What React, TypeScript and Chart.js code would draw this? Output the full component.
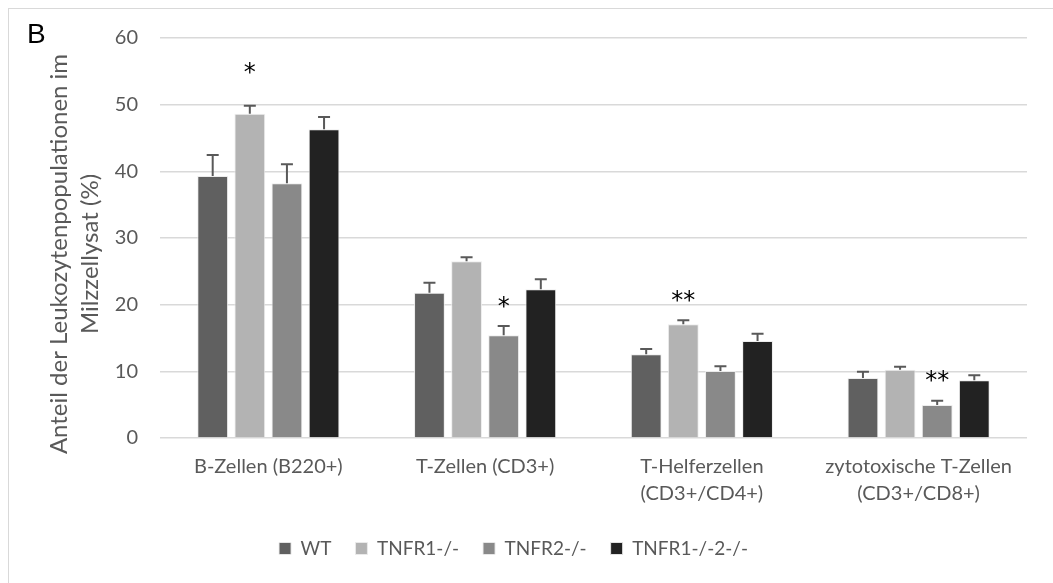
import { useEffect, useRef } from "react";
import { Chart, registerables } from "chart.js";
Chart.register(...registerables);

const categories = [
  ["B-Zellen (B220+)"],
  ["T-Zellen (CD3+)"],
  ["T-Helferzellen", "(CD3+/CD4+)"],
  ["zytotoxische T-Zellen", "(CD3+/CD8+)"],
];
const seriesNames = ["WT", "TNFR1-/-", "TNFR2-/-", "TNFR1-/-2-/-"];
const wtValues = [39.3, 21.8, 12.55, 9.0];
const wtErrors = [3.15, 1.5, 0.8, 0.95];
const tnfr1Values = [48.65, 26.5, 17.05, 10.25];
const tnfr1Errors = [1.2, 0.6, 0.6, 0.45];
const tnfr2Values = [38.2, 15.4, 10.05, 4.95];
const tnfr2Errors = [2.85, 1.4, 0.7, 0.65];
const dkoValues = [46.3, 22.3, 14.55, 8.65];
const dkoErrors = [1.85, 1.5, 1.1, 0.75];
const yTicks = [0, 10, 20, 30, 40, 50, 60];
const yTitle = ["Anteil der Leukozytenpopulationen im", "Milzzellysat (%)"];
const panelLetter = "B";

// significance marks
const sigSeries = [1, 2, 1, 2];
const sigCategories = [0, 1, 2, 3];
const sigLabels = ["*", "*", "**", "**"];
const sigValues = [54.7, 19.6, 20.4, 8.5];

const colors = ["#606060", "#b3b3b3", "#898989", "#222222"];
const FONT = "Lato, 'Liberation Sans', sans-serif";

const allValues = [wtValues, tnfr1Values, tnfr2Values, dkoValues];
const allErrors = [wtErrors, tnfr1Errors, tnfr2Errors, dkoErrors];

const extrasPlugin = {
  id: "extras",
  afterDatasetsDraw(chart: any) {
    const ctx = chart.ctx;
    const y = chart.scales.y;
    ctx.save();
    ctx.strokeStyle = "#595959";
    ctx.lineWidth = 2;
    allValues.forEach((vals, i) => {
      const meta = chart.getDatasetMeta(i);
      vals.forEach((v, j) => {
        const el = meta.data[j];
        const x = el.x;
        const top = y.getPixelForValue(v + allErrors[i][j]);
        const base = y.getPixelForValue(v);
        ctx.beginPath();
        ctx.moveTo(x, base);
        ctx.lineTo(x, top);
        ctx.moveTo(x - 6, top);
        ctx.lineTo(x + 6, top);
        ctx.stroke();
      });
    });
    ctx.fillStyle = "#000";
    ctx.font = `24px 'DejaVu Sans', sans-serif`;
    ctx.textAlign = "center";
    ctx.textBaseline = "middle";
    sigLabels.forEach((lab, k) => {
      const el = chart.getDatasetMeta(sigSeries[k]).data[sigCategories[k]];
      ctx.fillText(lab, el.x, y.getPixelForValue(sigValues[k]));
    });
    ctx.font = `28px 'Liberation Sans', sans-serif`;
    ctx.textAlign = "left";
    ctx.textBaseline = "alphabetic";
    ctx.fillText(panelLetter, 27, 43);
    // y axis title, centred a little below the plot centre as in the original
    ctx.fillStyle = "#595959";
    ctx.font = `24px ${FONT}`;
    ctx.textAlign = "center";
    ctx.textBaseline = "middle";
    ctx.translate(0, 254);
    ctx.rotate(-Math.PI / 2);
    ctx.fillText(yTitle[0], 0, 59);
    ctx.fillText(yTitle[1], 0, 90);
    ctx.restore();
  },
};

export default function App() {
  const ref = useRef<HTMLCanvasElement>(null);
  useEffect(() => {
    const chart = new Chart(ref.current!, {
      type: "bar",
      data: {
        labels: categories as any,
        datasets: seriesNames.map((name, i) => ({
          label: name,
          data: allValues[i],
          backgroundColor: colors[i],
          borderColor: "rgba(235,235,235,0.9)",
          borderWidth: 1,
          barPercentage: 0.83,
          categoryPercentage: 0.685,
        })),
      },
      options: {
        responsive: false,
        animation: false,
        layout: { padding: { top: 38, right: 26, left: 0, bottom: 15 } },
        plugins: {
          tooltip: { enabled: false },
          legend: {
            position: "bottom",
            labels: {
              boxWidth: 12,
              boxHeight: 12,
              color: "#595959",
              font: { family: FONT, size: 19 },
              padding: 24,
            },
          },
        },
        scales: {
          x: {
            grid: { display: false, drawTicks: false },
            border: { display: false },
            ticks: {
              color: "#595959",
              font: { family: FONT, size: 20, lineHeight: 1.35 },
              padding: 15,
              maxRotation: 0,
              autoSkip: false,
            },
            afterFit: (s: any) => {
              s.height = 77;
            },
          },
          y: {
            min: 0,
            max: 60,
            afterBuildTicks: (s: any) => {
              s.ticks = yTicks.map((v) => ({ value: v }));
            },
            grid: { color: "#d9d9d9", lineWidth: 1.5, drawTicks: false },
            border: { display: false },
            ticks: {
              color: "#595959",
              font: { family: FONT, size: 20 },
              padding: 22,
            },
            afterFit: (s: any) => {
              s.width = 160;
            },
          },
        },
      },
      plugins: [extrasPlugin],
    });
    return () => chart.destroy();
  }, []);
  return (
    <div style={{ position: "fixed", left: 0, top: 0, width: 1053, height: 583, overflow: "hidden", background: "#fff" }}>
      <div style={{ position: "absolute", left: 8, top: 8, width: 1100, height: 700, borderLeft: "1px solid #d9d9d9", borderTop: "1px solid #d9d9d9" }} />
      <canvas ref={ref} width={1053} height={583} style={{ position: "absolute", left: 0, top: 0 }} />
    </div>
  );
}
